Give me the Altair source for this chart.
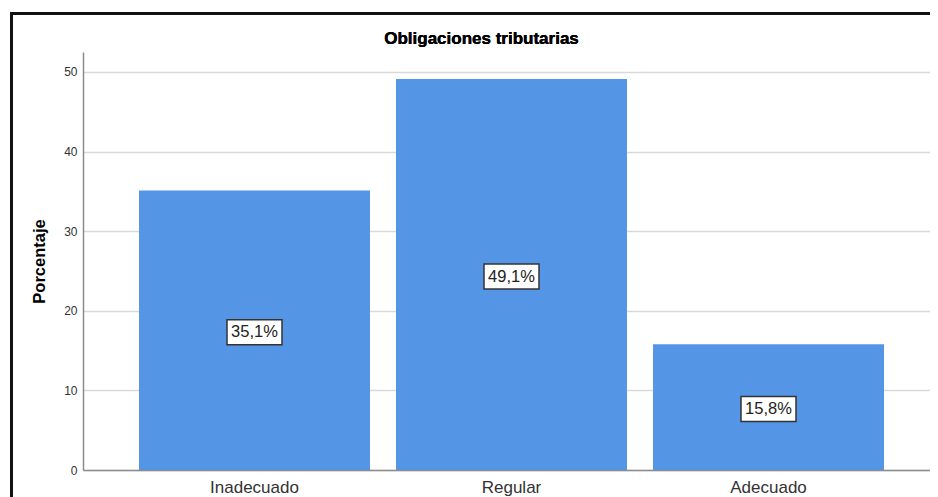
import altair as alt
import pandas as pd

categories = ["Inadecuado", "Regular", "Adecuado"]
values = [35.1, 49.1, 15.8]
labels = ["35,1%", "49,1%", "15,8%"]
y_ticks = [0, 10, 20, 30, 40, 50]

df = pd.DataFrame({"cat": categories, "val": values, "lab": labels})
df["half"] = df["val"] / 2

FONT = "Arial, Liberation Sans, sans-serif"
W, H = 847, 418

x_enc = alt.X("cat:N", sort=categories, title=None,
              scale=alt.Scale(paddingInner=0.1012, paddingOuter=0.19845, align=0.549),
              axis=alt.Axis(labelAngle=0, labelFontSize=17, labelColor="#333333",
                            labelFont=FONT, ticks=False, domainColor="#8c8c8c",
                            domainWidth=1.5, labelPadding=9, grid=False))
y_scale = alt.Scale(domain=[0, 52.5], nice=False)

base = alt.Chart(df)

border = base.mark_rect(fill="transparent", stroke="#111111", strokeWidth=2.5).encode(
    x=alt.value(-71.5), x2=alt.value(870), y=alt.value(-38.5), y2=alt.value(470)
)

bars = base.mark_bar(color="#5495e6").encode(
    x=x_enc,
    y=alt.Y("val:Q", scale=y_scale, title="Porcentaje",
            axis=alt.Axis(values=y_ticks, ticks=False, labelFontSize=12,
                          labelColor="#333333", labelFont=FONT, labelPadding=6,
                          domainColor="#8c8c8c", domainWidth=1.5,
                          gridColor="#d9d9d9", gridWidth=1.5,
                          titleFont=FONT, titleFontSize=16.5, titleFontWeight="bold",
                          titleColor="#000000", titlePadding=16)),
)

boxes = base.mark_point(
    shape="M-1,-0.455L1,-0.455L1,0.455L-1,0.455Z", size=55 * 55,
    filled=True, fill="white", stroke="#333333", strokeWidth=1.5, opacity=1,
    yOffset=2,
).encode(
    x=alt.X("cat:N", sort=categories),
    y=alt.Y("half:Q", scale=y_scale),
)

texts = base.mark_text(fontSize=16.5, font=FONT, color="#222222",
                       baseline="middle", align="center", dy=2).encode(
    x=alt.X("cat:N", sort=categories),
    y=alt.Y("half:Q", scale=y_scale),
    text="lab:N",
)

title = base.mark_text(text="Obligaciones tributarias", fontSize=17, fontWeight="bold",
                       font=FONT, color="#000000", align="center",
                       baseline="alphabetic").encode(
    x=alt.value(398.5), y=alt.value(-8)
)

chart = alt.layer(border, bars, boxes, texts, title).properties(
    width=W, height=H,
    autosize=alt.AutoSizeParams(type="none"),
    padding={"left": 75, "top": 44, "right": 0, "bottom": 30},
).configure_view(stroke=None)

chart.save("out.html", embed_options={"renderer": "svg", "actions": False})
